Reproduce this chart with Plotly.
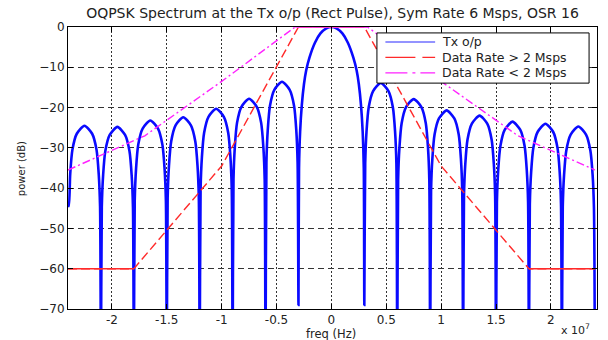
import numpy as np
import plotly.graph_objects as go

# Transmit spectrum of the OQPSK signal (frequency in MHz, power in dB)
spec_freq_mhz = [
    -24.0, -23.92, -23.8, -23.6, -23.2, -22.5, -21.8, -21.4, -21.2, -21.08, -21.0,
    -20.92, -20.8, -20.6, -20.2, -19.5, -18.8, -18.4, -18.2, -18.08, -18.0,
    -17.92, -17.8, -17.6, -17.2, -16.5, -15.8, -15.4, -15.2, -15.08, -15.0,
    -14.92, -14.8, -14.6, -14.2, -13.5, -12.8, -12.4, -12.2, -12.08, -12.0,
    -11.92, -11.8, -11.6, -11.2, -10.5, -9.8, -9.4, -9.2, -9.08, -9.0,
    -8.92, -8.8, -8.6, -8.2, -7.5, -6.8, -6.4, -6.2, -6.08, -6.0,
    -5.92, -5.8, -5.6, -5.2, -4.5, -3.8, -3.4, -3.2, -3.08, -3.0,
    -2.95, -2.85, -2.7, -2.5, -2.3, -2.0, -1.5, -1.0, -0.5, 0.0,
    0.5, 1.0, 1.5, 2.0, 2.3, 2.5, 2.7, 2.85, 2.95, 3.0,
    3.08, 3.2, 3.4, 3.8, 4.5, 5.2, 5.6, 5.8, 5.92, 6.0,
    6.08, 6.2, 6.4, 6.8, 7.5, 8.2, 8.6, 8.8, 8.92, 9.0,
    9.08, 9.2, 9.4, 9.8, 10.5, 11.2, 11.6, 11.8, 11.92, 12.0,
    12.08, 12.2, 12.4, 12.8, 13.5, 14.2, 14.6, 14.8, 14.92, 15.0,
    15.08, 15.2, 15.4, 15.8, 16.5, 17.2, 17.6, 17.8, 17.92, 18.0,
    18.08, 18.2, 18.4, 18.8, 19.5, 20.2, 20.6, 20.8, 20.92, 21.0,
    21.08, 21.2, 21.4, 21.8, 22.5, 23.2, 23.6, 23.8, 23.92, 24.0,
]
spec_power_db = [
    -44.0, -44.5, -36.5, -30.5, -26.5, -24.5, -26.5, -30.5, -36.5, -44.5, -85.0,
    -44.8, -36.8, -30.8, -26.8, -24.8, -26.8, -30.8, -36.8, -44.8, -85.0,
    -43.2, -35.2, -29.2, -25.2, -23.2, -25.2, -29.2, -35.2, -43.2, -85.0,
    -42.4, -34.4, -28.4, -24.4, -22.4, -24.4, -28.4, -34.4, -42.4, -85.0,
    -40.3, -32.3, -26.3, -22.3, -20.3, -22.3, -26.3, -32.3, -40.3, -85.0,
    -37.8, -29.8, -23.8, -19.8, -17.8, -19.8, -23.8, -29.8, -37.8, -85.0,
    -33.6, -25.6, -19.6, -15.6, -13.6, -15.6, -19.6, -25.6, -33.6, -69.0,
    -35.0, -26.0, -19.5, -14.2, -10.8, -7.6, -3.9, -1.6, -0.4, 0.0,
    -0.4, -1.6, -3.9, -7.6, -10.8, -14.2, -19.5, -26.0, -35.0, -69.0,
    -33.9, -25.9, -19.9, -15.9, -13.9, -15.9, -19.9, -25.9, -33.9, -85.0,
    -37.9, -29.9, -23.9, -19.9, -17.9, -19.9, -23.9, -29.9, -37.9, -85.0,
    -40.7, -32.7, -26.7, -22.7, -20.7, -22.7, -26.7, -32.7, -40.7, -85.0,
    -42.0, -34.0, -28.0, -24.0, -22.0, -24.0, -28.0, -34.0, -42.0, -85.0,
    -43.5, -35.5, -29.5, -25.5, -23.5, -25.5, -29.5, -35.5, -43.5, -85.0,
    -44.0, -36.0, -30.0, -26.0, -24.0, -26.0, -30.0, -36.0, -44.0, -85.0,
    -44.7, -36.7, -30.7, -26.7, -24.7, -26.7, -30.7, -36.7, -44.7, -80.0,
]

# Spectral masks (MHz, dB)
mask_hi_freq_mhz = [-24.0, -18.0, -10.0, -3.0, 3.0, 10.0, 18.0, 24.0]
mask_hi_db = [-60.0, -60.0, -34.5, 0.0, 0.0, -34.5, -60.0, -60.0]
mask_lo_freq_mhz = [-24.0, -17.0, -10.0, -3.3, 3.3, 10.0, 17.0, 24.0]
mask_lo_db = [-35.5, -27.0, -13.5, 0.0, 0.0, -13.5, -27.0, -35.5]

series_names = ["Tx o/p", "Data Rate > 2 Msps", "Data Rate < 2 Msps"]

x_tick_vals = [-2.0, -1.5, -1.0, -0.5, 0.0, 0.5, 1.0, 1.5, 2.0]  # x 10^7 Hz
x_tick_text = ["-2", "-1.5", "-1", "-0.5", "0", "0.5", "1", "1.5", "2"]
y_tick_vals = [0, -10, -20, -30, -40, -50, -60, -70]

MHZ = 1e6
FONT = "DejaVu Sans"
TXT = "#222222"
BLUE, RED, MAGENTA = "#0a0aff", "#ff2a2a", "#ff22ff"
RED_DASH = "9px,4px"
MAG_DASH = "8px,3px,2px,3px"


def hz(v):
    return np.asarray(v, dtype=float) * MHZ


fig = go.Figure()

fig.add_trace(go.Scatter(
    x=hz(spec_freq_mhz), y=spec_power_db, mode="lines", name=series_names[0],
    line=dict(color=BLUE, width=2.6, shape="spline", smoothing=0.7),
))
fig.add_trace(go.Scatter(
    x=hz(mask_hi_freq_mhz), y=mask_hi_db, mode="lines", name=series_names[1],
    line=dict(color=RED, width=1.4, dash=RED_DASH),
))
fig.add_trace(go.Scatter(
    x=hz(mask_lo_freq_mhz), y=mask_lo_db, mode="lines", name=series_names[2],
    line=dict(color=MAGENTA, width=1.4, dash=MAG_DASH),
))

# flat sections of the masks are drawn solid
for seg in ([0, 1], [3, 4], [6, 7]):
    fig.add_trace(go.Scatter(
        x=hz([mask_hi_freq_mhz[i] for i in seg]), y=[mask_hi_db[i] for i in seg],
        mode="lines", hoverinfo="skip", line=dict(color=RED, width=1.4),
    ))
fig.add_trace(go.Scatter(
    x=hz(mask_lo_freq_mhz[3:5]), y=mask_lo_db[3:5], mode="lines",
    hoverinfo="skip", line=dict(color="#ff44ff", width=1.4),
))

axis_common = dict(
    showline=True, linecolor="black", linewidth=1, mirror="ticks",
    ticks="inside", ticklen=5, tickcolor="black", zeroline=False,
    showgrid=True, gridcolor="#333333", gridwidth=1,
    tickfont=dict(family=FONT, size=12, color=TXT),
)

fig.update_xaxes(
    range=[-2.4e7, 2.42e7], tickvals=[v * 1e7 for v in x_tick_vals],
    ticktext=x_tick_text, griddash="2px,2px", **axis_common,
)
fig.update_yaxes(
    range=[-70, 0], tickvals=y_tick_vals, griddash="6px,4px", **axis_common,
)

# boxed legend in the upper right of the axes
leg_x0, leg_x1, leg_y0, leg_y1 = 0.584, 0.985, 0.801, 0.979
sample_x0, sample_x1, text_x = 0.600, 0.694, 0.703
row_y = [0.947, 0.892, 0.837]
sample_styles = [
    dict(color="#6f6fff", width=1.6),
    dict(color=RED, width=1.2, dash="30px,7px"),
    dict(color=MAGENTA, width=1.2, dash="22px,5px,3px,5px"),
]
shapes = [dict(type="rect", xref="paper", yref="paper", x0=leg_x0, x1=leg_x1,
               y0=leg_y0, y1=leg_y1, line=dict(color="black", width=1),
               fillcolor="white", layer="above")]
legend_text = []
for yy, style, name in zip(row_y, sample_styles, series_names):
    shapes.append(dict(type="line", xref="paper", yref="paper",
                       x0=sample_x0, x1=sample_x1, y0=yy, y1=yy,
                       line=style, layer="above"))
    legend_text.append(dict(text=name, x=text_x, y=yy, xref="paper", yref="paper",
                            showarrow=False, xanchor="left", yanchor="middle",
                            font=dict(family=FONT, size=12.5, color=TXT)))

fig.update_layout(
    width=608, height=340,
    margin=dict(l=68, r=11, t=27, b=31),
    paper_bgcolor="white", plot_bgcolor="white",
    showlegend=False,
    title=dict(
        text="OQPSK Spectrum at the Tx o/p (Rect Pulse), Sym Rate 6 Msps, OSR 16",
        font=dict(family=FONT, size=14, color=TXT),
        x=0.5, xref="paper", xanchor="center", y=0.962, yanchor="middle",
    ),
    shapes=shapes,
    annotations=legend_text + [
        dict(text="freq (Hz)", x=0.497, y=-0.09, xref="paper", yref="paper",
             showarrow=False, xanchor="center", yanchor="middle",
             font=dict(family=FONT, size=11.5, color=TXT)),
        dict(text="power (dB)", x=-0.0888, y=0.496, xref="paper", yref="paper",
             showarrow=False, textangle=-90, xanchor="center", yanchor="middle",
             font=dict(family=FONT, size=10, color=TXT)),
        dict(text="x 10<sup>7</sup>", x=0.930, y=-0.103, xref="paper", yref="paper",
             showarrow=False, xanchor="left", yanchor="bottom", borderpad=0,
             font=dict(family=FONT, size=11, color=TXT)),
    ],
)

fig.write_html("out.html")
